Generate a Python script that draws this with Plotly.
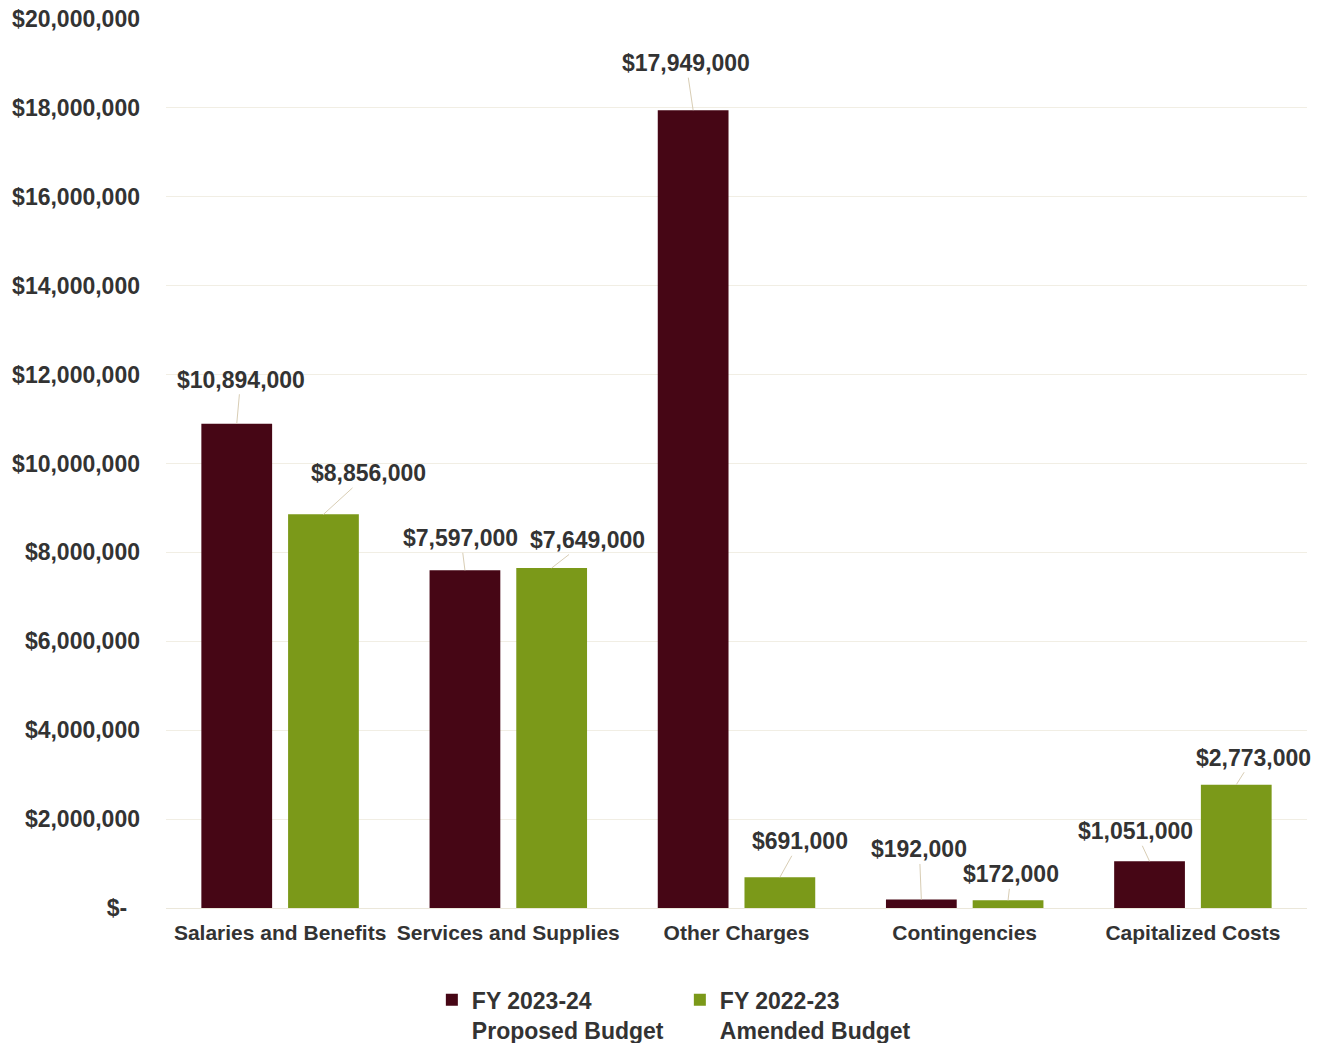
import plotly.graph_objects as go

# Budget categories and amounts
categories = ["Salaries and Benefits", "Services and Supplies", "Other Charges",
              "Contingencies", "Capitalized Costs"]
proposed_2023_24 = [10894000, 7597000, 17949000, 192000, 1051000]
amended_2022_23 = [8856000, 7649000, 691000, 172000, 2773000]

series_names = ["FY 2023-24<br>Proposed Budget", "FY 2022-23<br>Amended Budget"]

y_tick_values = [0, 2000000, 4000000, 6000000, 8000000, 10000000,
                 12000000, 14000000, 16000000, 18000000, 20000000]
y_tick_labels = ["$-\u00a0\u00a0", "$2,000,000", "$4,000,000", "$6,000,000",
                 "$8,000,000", "$10,000,000", "$12,000,000", "$14,000,000",
                 "$16,000,000", "$18,000,000", "$20,000,000"]

# Label offsets (pixels) for each value label, relative to the bar top
proposed_offsets = [(4, -44), (-4, -32), (-7, -47), (-2, -50), (-14, -30)]
amended_offsets = [(45, -41), (36, -28), (20, -36), (3, -26), (17, -27)]

MAROON = "#460615"
GREEN = "#7b9919"
TEXT = "#333333"
FONT = "Liberation Sans, Arial, sans-serif"

fig = go.Figure()
fig.add_trace(go.Bar(name=series_names[0], x=categories, y=proposed_2023_24,
                     marker=dict(color=MAROON, line=dict(width=0))))
fig.add_trace(go.Bar(name=series_names[1], x=categories, y=amended_2022_23,
                     marker=dict(color=GREEN, line=dict(width=0))))


def money(v):
    return "${:,.0f}".format(v)


annotations = []
for idx, (vals, offs) in enumerate([(proposed_2023_24, proposed_offsets),
                                     (amended_2022_23, amended_offsets)]):
    shift = -0.19 if idx == 0 else 0.19
    for i, (v, (ax, ay)) in enumerate(zip(vals, offs)):
        annotations.append(dict(
            x=i + shift, y=v, xref="x", yref="y",
            text="<b>" + money(v) + "</b>",
            showarrow=True, arrowhead=0, arrowwidth=1, arrowcolor="#d8cdb4",
            ax=ax, ay=ay, standoff=0,
            font=dict(family=FONT, size=23, color=TEXT),
        ))

fig.update_layout(
    width=1327, height=1043,
    margin=dict(l=166, r=20, t=19, b=135, autoexpand=False),
    paper_bgcolor="white", plot_bgcolor="white",
    barmode="group", bargap=0.24, bargroupgap=0.184,
    font=dict(family=FONT, color=TEXT),
    annotations=annotations,
    showlegend=True,
    legend=dict(
        orientation="h", x=0.233, xanchor="left", y=-0.079, yanchor="top",
        font=dict(family=FONT, size=23, color=TEXT, weight="bold"),
        valign="top", itemwidth=30, entrywidth=203,
        traceorder="normal",
    ),
)

fig.update_xaxes(
    type="category", range=[-0.5, len(categories) - 0.5],
    tickfont=dict(family=FONT, size=21, color=TEXT, weight="bold"),
    showgrid=False, showline=False, ticks="",
    ticklabelstandoff=10,
)
fig.update_yaxes(
    range=[0, 20000000],
    tickvals=y_tick_values, ticktext=y_tick_labels,
    tickfont=dict(family=FONT, size=23, color=TEXT, weight="bold"),
    showgrid=True, gridcolor="#f1eee4", gridwidth=1,
    zeroline=True, zerolinecolor="#ebe7da", zerolinewidth=1,
    showline=False, ticks="", ticklabelstandoff=25,
)

fig.write_html("out.html")
